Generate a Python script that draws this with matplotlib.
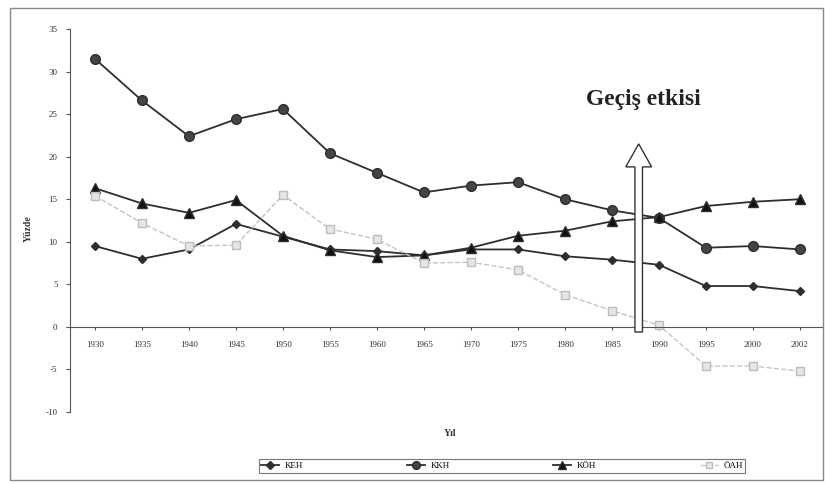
import matplotlib
matplotlib.use("Agg")
import matplotlib.pyplot as plt
from matplotlib.patches import Rectangle, FancyArrow

years = ["1930", "1935", "1940", "1945", "1950", "1955", "1960", "1965",
         "1970", "1975", "1980", "1985", "1990", "1995", "2000", "2002"]
keh = [9.5, 8.0, 9.1, 12.1, 10.6, 9.1, 8.9, 8.4, 9.1, 9.1, 8.3, 7.9, 7.3, 4.8, 4.8, 4.2]
kkh = [31.5, 26.6, 22.4, 24.4, 25.6, 20.4, 18.1, 15.8, 16.6, 17.0, 15.0, 13.7, 12.8, 9.3, 9.5, 9.1]
koh = [16.3, 14.5, 13.4, 14.9, 10.7, 9.0, 8.2, 8.4, 9.3, 10.7, 11.3, 12.4, 12.9, 14.2, 14.7, 15.0]
oah = [15.4, 12.2, 9.5, 9.6, 15.5, 11.5, 10.3, 7.5, 7.6, 6.7, 3.8, 1.9, 0.2, -4.6, -4.6, -5.2]
y_ticks = [-10, -5, 0, 5, 10, 15, 20, 25, 30, 35]
labels = ["KEH", "KKH", "KÖH", "ÖAH"]

plt.rcParams['font.family'] = ['Liberation Serif', 'DejaVu Serif']

fig = plt.figure(figsize=(8.25, 4.84), dpi=100)
ax = fig.add_axes([70/825, 1-412/484, (822-70)/825, (412-29)/484])

ax.spines['top'].set_visible(False)
ax.spines['right'].set_visible(False)
ax.spines['bottom'].set_position(('data', 0))
ax.spines['bottom'].set_color('#555555')
ax.spines['left'].set_color('#555555')

x = list(range(len(years)))
dark = '#2e2e2e'
ax.plot(x, keh, color=dark, lw=1.3, marker='D', ms=4.5, mfc=dark, mec=dark, label=labels[0])
ax.plot(x, kkh, color=dark, lw=1.3, marker='o', ms=7, mfc='#444444', mec=dark, label=labels[1])
ax.plot(x, koh, color=dark, lw=1.3, marker='^', ms=6.5, mfc='#111111', mec=dark, label=labels[2])
ax.plot(x, oah, color='#c4c4c4', lw=1.0, ls='--', marker='s', ms=5.5, mfc='#e6e6e6', mec='#bdbdbd', label=labels[3])

ax.set_xlim(-0.53, 15.47)
ax.set_ylim(-10, 35)
ax.set_xticks(x)
ax.set_xticklabels(years)
ax.set_yticks(y_ticks)
ax.set_yticklabels([str(v) for v in y_ticks])
ax.tick_params(axis='x', length=2, pad=8, color='#555555', labelsize=6.5, labelcolor='#333333')
ax.tick_params(axis='y', length=3, pad=6, color='#555555', labelsize=6.5, labelcolor='#333333')

ax.set_ylabel("Yüzde", fontsize=7, fontweight='bold', color='#333333')
ax.yaxis.set_label_coords(-0.05, 0.48)
fig.text(450/825, 1-433/484, "Yıl", fontsize=7, fontweight='bold', color='#333333', ha='center', va='center')

# Transition arrow annotation
arrow_x = 11.57
ax.add_patch(FancyArrow(arrow_x, -0.6, 0, 22.1, width=0.16, head_width=0.55,
                        head_length=2.7, length_includes_head=True,
                        fc='white', ec='#333333', lw=1.0, zorder=5))
ax.text(11.66, 26.7, "Geçiş etkisi", fontsize=17, fontweight='bold', color='#222222',
        ha='center', va='center')

leg = fig.legend(loc='center', bbox_to_anchor=(502/825, 1-466/484), ncol=4,
                 fontsize=6.5, frameon=True, fancybox=False, edgecolor='#555555',
                 handlelength=2.0, columnspacing=11.5, borderpad=0.3, handletextpad=0.6,
                 markerscale=0.8)
leg.get_frame().set_linewidth(0.8)

fig.patches.append(Rectangle((10/825, 1-480/484), 813/825, 472/484, transform=fig.transFigure,
                             fill=False, ec='#888888', lw=1.0))

fig.savefig("out.png", dpi=100)
